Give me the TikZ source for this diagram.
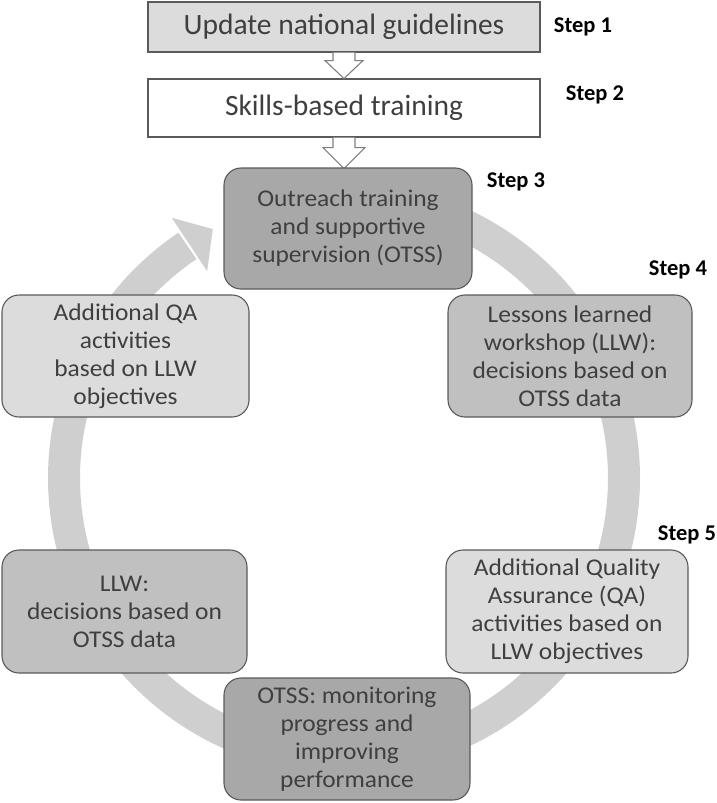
\documentclass[tikz,border=0pt]{standalone}
\usepackage{fontspec}
\setmainfont{Carlito}
\newfontfamily\boxfont{Carlito}[FakeStretch=1.06]
\usetikzlibrary{calc}
\definecolor{txt}{HTML}{3F3F3F}
\definecolor{bord}{HTML}{5A5A5A}
\definecolor{ringc}{HTML}{CFCFCF}
\definecolor{dark}{HTML}{A8A8A8}
\definecolor{mid}{HTML}{C0C0C0}
\definecolor{light}{HTML}{DCDCDC}
\definecolor{arrb}{HTML}{808080}
\tikzset{
  rbox/.style={draw=bord, line width=1.1pt, rounded corners=17pt, align=center,
    text=txt, font=\boxfont\fontsize{24}{28}\selectfont, inner sep=0pt},
  topbox/.style={draw=bord, line width=1.1pt, align=center, text=txt,
    font=\fontsize{29.5}{32}\selectfont, inner sep=0pt, minimum width=392pt},
  steplbl/.style={font=\bfseries\fontsize{22.5}{24}\selectfont, text=black, inner sep=0pt},
  hollow/.style={draw=arrb, fill=white, line width=1.1pt, line join=miter}
}
\begin{document}
\begin{tikzpicture}[x=1pt,y=1pt]
\useasboundingbox (0,0) rectangle (717,-803);
\coordinate (c) at (344,-478);
% ring
\draw[ringc, line width=32pt] ($(c)+(90:280)$) arc[start angle=90, end angle=-236, radius=280];
\fill[ringc] ($(c)+(123.5:312)$) -- ($(c)+(123.5:280)+(33.5:28)$) -- ($(c)+(123.5:248)$) -- cycle;
% top boxes
\node[topbox, fill=light, minimum height=50pt] (b1) at (344,-27) {Update national guidelines};
\node[topbox, fill=white, minimum height=58pt] (b2) at (344,-108) {Skills-based training};
% hollow arrows
\draw[hollow] ($(b1.south)+(-11,0)$) -- ++(0,-8) -- ++(-8,0) -- ($(b1.south)+(0,-26)$) -- ($(b1.south)+(19,-8)$) -- ++(-8,0) -- ($(b1.south)+(11,0)$);
\draw[hollow] ($(b2.south)+(-11,0)$) -- ++(0,-10) -- ++(-10,0) -- ($(b2.south)+(0,-31)$) -- ($(b2.south)+(21,-10)$) -- ++(-10,0) -- ($(b2.south)+(11,0)$);
% cycle boxes
\node[rbox, fill=dark, minimum width=248pt, minimum height=121pt] (otss) at (348,-228.5)
  {Outreach training\\and supportive\\supervision (OTSS)};
\node[rbox, fill=mid, minimum width=244pt, minimum height=122pt] (llw) at (570,-356)
  {Lessons learned\\workshop (LLW):\\decisions based on\\OTSS data};
\node[rbox, fill=light, minimum width=242pt, minimum height=123pt] (qa) at (567,-611.5)
  {Additional Quality\\Assurance (QA)\\activities based on\\LLW objectives};
\node[rbox, fill=dark, minimum width=246pt, minimum height=122pt] (mon) at (347,-739)
  {OTSS: monitoring\\progress and\\improving\\performance};
\node[rbox, fill=mid, minimum width=245pt, minimum height=123pt] (llw2) at (124.5,-611.5)
  {LLW:\\decisions based on\\OTSS data};
\node[rbox, fill=light, minimum width=247pt, minimum height=122pt] (qa2) at (125.5,-356)
  {Additional QA\\activities\\based on LLW\\objectives};
% step labels
\node[steplbl] (s1) at (583,-27) {Step 1};
\node[steplbl] (s2) at (595,-95) {Step 2};
\node[steplbl] (s3) at (516,-182) {Step 3};
\node[steplbl] (s4) at (678,-270) {Step 4};
\node[steplbl] (s5) at (687,-535) {Step 5};
\end{tikzpicture}
\end{document}
